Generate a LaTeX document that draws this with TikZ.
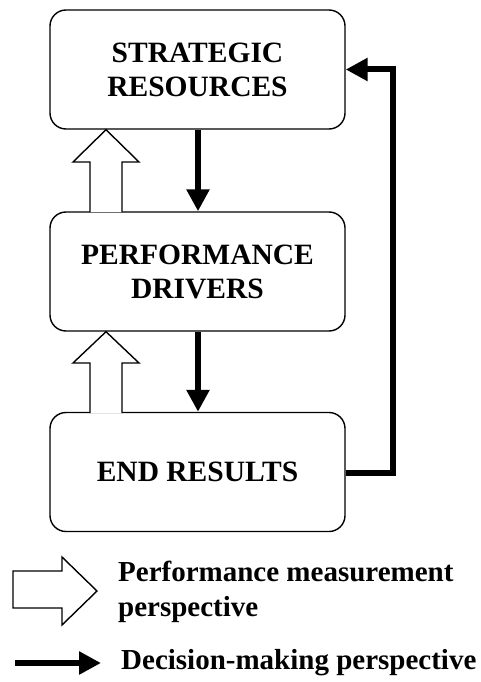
\documentclass[tikz,border=0pt]{standalone}
\usepackage{fontspec}
\setmainfont{Liberation Serif}
\usetikzlibrary{arrows.meta}
\begin{document}
\begin{tikzpicture}[x=1pt,y=-1pt,
  box/.style={draw,line width=1.4pt,rounded corners=16pt,minimum width=295pt,minimum height=119pt,align=center,inner sep=0pt,font=\fontsize{29.5}{34}\selectfont\bfseries},
  dm/.style={line width=6pt,-{Triangle[length=22pt,width=22pt]}},
  hollow/.style={draw,line width=1.4pt,fill=white,line join=miter},
  legtext/.style={anchor=west,align=left,inner sep=0pt,font=\fontsize{29}{35}\selectfont\bfseries}]
\useasboundingbox (0,0) rectangle (481,682);
\node[box] (sr) at (197.5,69.5) {STRATEGIC\\RESOURCES};
\node[box] (pd) at (197.5,271.5) {PERFORMANCE\\DRIVERS};
\node[box] (er) at (197.5,472) {END RESULTS};
% hollow arrows (performance measurement)
\draw[hollow] (90,212) -- (90,162) -- (73,162) -- (106,129.7) -- (139,162) -- (122,162) -- (122,212);
\draw[hollow] (90,413) -- (90,363) -- (73,363) -- (106,331.7) -- (139,363) -- (122,363) -- (122,413);
% decision-making arrows
\draw[dm] (sr.south -| 198,0) -- (pd.north -| 198,0);
\draw[dm] (pd.south -| 198,0) -- (er.north -| 198,0);
\coordinate (fb) at (393,473);
\draw[dm,line join=miter] (er.east |- fb) -- (fb) |- (sr.east);
% legend
\draw[hollow] (13,571) -- (62,571) -- (62,557) -- (97,591) -- (62,625) -- (62,608) -- (13,608) -- cycle;
\coordinate (l1) at (15,663);
\coordinate (l2) at (101,663);
\draw[dm] (l1) -- (l2);
\node[legtext] (t1) at (118,592) {Performance measurement\\perspective};
\node[legtext] (t2) at (121,663) {Decision-making perspective};
\end{tikzpicture}
\end{document}
